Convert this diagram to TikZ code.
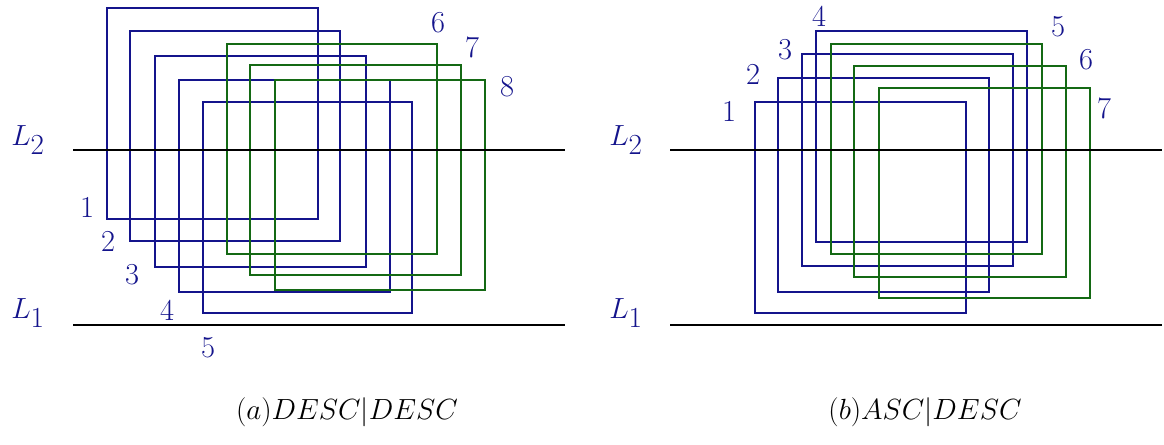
\documentclass[tikz,border=0pt]{standalone}
\begin{document}
\begin{tikzpicture}[x=0.03cm,y=-0.03cm,
  bl/.style={draw={rgb,255:red,20;green,20;blue,140},line width=1.2pt},
  gr/.style={draw={rgb,255:red,20;green,105;blue,20},line width=1.2pt},
  num/.style={text={rgb,255:red,20;green,20;blue,140},font=\fontsize{26}{28}\selectfont,inner sep=0},
  lab/.style={text={rgb,255:red,20;green,20;blue,140},font=\fontsize{40}{42}\selectfont,inner sep=0},
  ln/.style={draw=black,line width=1.2pt}]
\useasboundingbox (0,0) rectangle (1164,445);
% left
\draw[bl] (107,8) rectangle (318,219);
\draw[bl] (130,31) rectangle (340,241);
\draw[bl] (155,56) rectangle (366,267);
\draw[bl] (179,80) rectangle (390,292);
\draw[bl] (203,102) rectangle (412,313);
\draw[gr] (227,44) rectangle (437,254);
\draw[gr] (250,65) rectangle (461,275);
\draw[gr] (275,80) rectangle (485,290);
\foreach \t/\x/\y in {1/87/207,2/108/241,3/132/275,4/167/310,5/208/348,6/438/23,7/472/47,8/507/87}
  \node[num] (la\t) at (\x,\y) {\t};
\coordinate (a2s) at (73,150); \coordinate (a2e) at (565,150);
\coordinate (a1s) at (73,325); \coordinate (a1e) at (565,325);
\draw[ln] (a2s)--(a2e); \draw[ln] (a1s)--(a1e);
\node[lab] (aL2) at (28,140) {$L_2$};
\node[lab] (aL1) at (28,313) {$L_1$};
\node[font=\fontsize{36}{38}\selectfont] (capa) at (347,412) {$(a)DESC|DESC$};
% right
\draw[bl] (755,102) rectangle (966,313);
\draw[bl] (778,78) rectangle (989,292);
\draw[bl] (802,54) rectangle (1013,266);
\draw[bl] (816,31) rectangle (1027,242);
\draw[gr] (831,44) rectangle (1042,254);
\draw[gr] (854,66) rectangle (1066,277);
\draw[gr] (879,88) rectangle (1090,298);
\foreach \t/\x/\y in {1/729/111,2/753/74,3/785/50,4/819/16,5/1058/27,6/1086/60,7/1104/108}
  \node[num] (lb\t) at (\x,\y) {\t};
\coordinate (b2s) at (670,150); \coordinate (b2e) at (1162,150);
\coordinate (b1s) at (670,325); \coordinate (b1e) at (1162,325);
\draw[ln] (b2s)--(b2e); \draw[ln] (b1s)--(b1e);
\node[lab] (bL2) at (626,140) {$L_2$};
\node[lab] (bL1) at (626,313) {$L_1$};
\node[font=\fontsize{36}{38}\selectfont] (capb) at (925,412) {$(b)ASC|DESC$};
\end{tikzpicture}
\end{document}
